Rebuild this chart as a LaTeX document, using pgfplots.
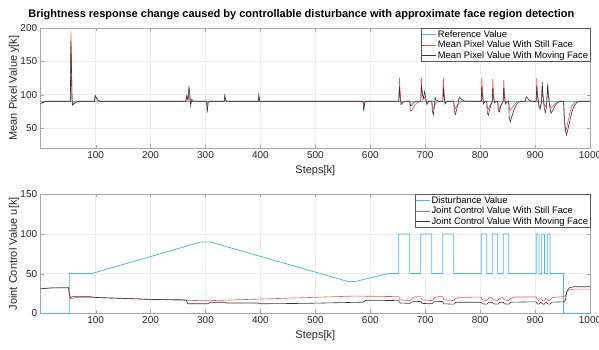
\documentclass[border=0pt]{standalone}
\usepackage{fontspec}
\setmainfont{Liberation Sans}
\usepackage{pgfplots}
\pgfplotsset{compat=1.18}
\definecolor{refblue}{RGB}{77,185,235}
\definecolor{stillred}{RGB}{255,80,80}
\definecolor{movgray}{RGB}{55,55,55}
\pgfplotsset{myaxis/.style={
  width=549.3pt, height=119.4pt, scale only axis,
  xmin=0, xmax=1000, xtick={100,200,...,1000},
  axis line style={draw=gray!70},
  grid=major, grid style={draw=gray!15, line width=0.4pt},
  tick align=inside, major tick length=3pt, tick style={draw=gray!70},
  ticklabel style={font=\fontsize{10}{12}\selectfont, text=black!85},
  /pgf/number format/assume math mode=true,
  /pgf/number format/1000 sep={},
  label style={font=\fontsize{11}{13}\selectfont, text=black!85},
  xlabel={Steps[k]},
  ylabel style={at={(axis description cs:-0.033,0.5)}, anchor=south},
  legend cell align=left,
  legend style={at={(1,1)}, anchor=north east, draw=gray!70!black, fill=white,
    font=\fontsize{9.4}{10.5}\selectfont, inner xsep=0.5pt, inner ysep=0.5pt,
    nodes={inner sep=1.2pt}},
}}
\begin{document}
\begin{tikzpicture}
\useasboundingbox (-40.7pt,-201.3pt) rectangle (558.3pt,147.7pt);
\begin{axis}[myaxis, at={(0pt,0pt)}, anchor=south west,
  legend image code/.code={\draw[#1] (0cm,0cm) -- (0.48cm,0cm);},
  ymin=20, ymax=200, ytick={50,100,150,200},
  ylabel={Mean Pixel Value y[k]},
  title={Brightness response change caused by controllable disturbance with approximate face region detection},
  title style={font=\bfseries\fontsize{11}{13}\selectfont, at={(axis description cs:0.5,1)}, anchor=south, yshift=-1pt, xshift=-14pt},
]
\addplot[refblue, line width=1pt] coordinates {(0,90)(1000,90)};
\addlegendentry{Reference Value}
\addplot[stillred, line width=0.6pt] coordinates {
(0,86)(3,87.5)(6,89)(10,90)(54,90)(55,196)(56,150)(57,92)(58,85)(60,87)(63,89)(68,90)
(98,90)(99,97)(101,95)(104,91)(108,90)
(264,90)(266,95)(268,92)(270,100)(272,88)(274,91)(277,90)
(302,90)(303,85)(305,90)
(334,90)(335,95)(337,90)
(396,90)(397,96)(399,90)
(587,90)(588,86)(590,90)
(652,90)(653,126)(654,110)(656,88)(659,89.5)(663,90)
(672,90)(673,75)(675,76)(678,80)(682,85)(686,88)(691,90)
(692,90)(693,126)(694,110)(696,92)(699,96)(702,88)(706,90)
(712,90)(713,82)(715,79)(717,84)(720,88)(725,90)
(732,90)(733,125)(734,110)(736,88)(740,90)
(752,90)(753,82)(755,79)(758,83)(762,87)(767,89.5)(772,90)
(802,90)(803,125)(804,110)(806,88)(810,90)
(812,90)(813,80)(815,78)(818,84)(821,88)(822,90)(823,124)(824,108)(826,88)(830,90)
(832,90)(833,80)(835,78)(838,84)(841,88)(842,90)(843,122)(844,106)(846,88)(850,90)
(852,90)(853,80)(855,77)(858,80)(862,85)(867,88.5)(872,90)
(902,90)(903,125)(904,108)(906,92)(907,85)(909,80)(911,87)(912,95)(913,110)(914,98)(916,88)(917,84)(919,82)(921,88)(922,100)(923,118)(924,104)(926,90)(927,86)(929,80)(932,82)(936,86)(941,89)(946,90)
(952,90)(953,60)(955,44)(957,48)(960,60)(964,75)(968,84)(973,89)(978,90)(1000,90)};
\addlegendentry{Mean Pixel Value With Still Face}
\addplot[movgray, line width=0.6pt] coordinates {
(0,87)(4,88)(8,89.5)(12,90)(54,90)(55,182)(56,140)(57,95)(58,84)(60,86)(64,88.5)(70,90)
(98,90)(99,99)(101,96)(104,92)(108,90)
(264,90)(266,99)(268,92)(270,113)(272,96)(273,83)(275,93)(277,90)(280,90)
(302,90)(303,73)(305,88)(307,90)
(334,90)(335,99)(337,92)(339,90)
(396,90)(397,100)(399,89)(402,90)
(587,90)(588,75)(590,88)(592,90)
(652,90)(653,112)(654,100)(656,85)(659,88)(663,90)
(672,90)(673,83)(675,84)(678,87)(683,90)
(692,90)(693,114)(695,100)(697,95)(699,105)(701,95)(703,85)(706,90)
(712,90)(713,75)(715,70)(717,85)(718,96)(720,92)(724,90)
(732,90)(733,112)(734,100)(736,86)(740,90)
(752,90)(753,75)(755,70)(758,80)(761,93)(762,96)(766,93)(770,91)(774,90)
(802,90)(803,112)(804,100)(806,86)(809,90)
(812,90)(813,72)(815,69)(818,80)(821,88)(822,90)(823,110)(824,98)(826,88)(829,90)
(832,90)(833,76)(835,74)(838,84)(841,89)(842,90)(843,110)(844,98)(846,86)(849,90)
(852,90)(853,65)(855,59)(858,68)(862,78)(866,85)(871,89)(876,90)
(882,90)(884,97)(886,95)(889,92)(893,90)
(902,90)(903,112)(904,100)(906,90)(907,82)(909,78)(911,84)(912,95)(913,119)(914,104)(916,86)(917,78)(919,73)(921,84)(922,100)(923,114)(924,100)(926,86)(927,80)(929,72)(932,76)(936,83)(941,88)(946,90)
(952,90)(953,70)(955,50)(957,39)(959,45)(963,60)(967,74)(971,83)(976,88)(982,90)(1000,90)};
\addlegendentry{Mean Pixel Value With Moving Face}
\end{axis}
\begin{axis}[myaxis, at={(0pt,-165.6pt)}, anchor=south west,
  legend image code/.code={\draw[#1] (0cm,0cm) -- (0.48cm,0cm);},
  height=119pt,
  ymin=0, ymax=150, ytick={0,50,100,150},
  ylabel={Joint Control Value u[k]},
]
\addplot[refblue, line width=0.8pt] coordinates {
(0,0)(52,0)(52,50)(92,50)(292,90)(308,90)(560,40)(572,40)(632,50)(652,50)(652,100)(672,100)(672,50)(692,50)(692,100)(712,100)(712,50)(732,50)(732,100)(752,100)(752,50)(802,50)(802,100)(812,100)(812,50)(822,50)(822,100)(832,100)(832,50)(842,50)(842,100)(852,100)(852,50)(902,50)(902,100)(907,100)(907,50)(912,50)(912,100)(917,100)(917,50)(922,50)(922,100)(927,100)(927,50)(952,50)(952,0)(1000,0)};
\addlegendentry{Disturbance Value}
\addplot[stillred, line width=0.6pt] coordinates {
(0,31)(20,32)(51,32.5)(52,25)(54,18)(58,19)(65,20)(100,20)(200,17.6)(300,15.8)(470,19.5)(570,21.7)(600,21.5)(652,21)(654,17)(672,16)(674,17)(678,20)(684,21)(692,21)(694,17)(712,16)(714,17)(718,20)(724,21)(732,21)(734,17)(752,16)(754,18)(760,20)(802,20.5)(804,17)(812,16)(814,18)(820,20)(822,19)(824,17)(832,16)(834,18)(840,20)(842,19)(844,17)(852,16)(856,19)(862,20.5)(902,20.5)(904,17)(907,16)(910,19)(912,18)(914,16)(917,16)(920,19)(922,18)(924,16)(927,16)(932,20)(952,21)(955,22)(958,27)(962,29.5)(970,30.5)(1000,30.5)};
\addlegendentry{Joint Control Value With Still Face}
\addplot[movgray, line width=0.6pt] coordinates {
(0,31)(20,32)(51,32)(52,25)(54,20)(58,21)(65,21)(90,21)(100,20)(200,17.5)(260,17)(265,16.5)(268,12)(305,12)(308,14)(335,14)(338,13)(395,13)(398,12)(480,12.5)(586,14)(592,16.5)(652,16)(654,13)(672,12.5)(676,14.5)(692,15)(694,12.5)(712,12)(716,14.5)(732,15)(734,12)(752,11.5)(756,14)(802,14)(804,12)(812,11.5)(816,14)(822,14)(824,12)(832,11.5)(836,14)(842,14)(844,12)(852,11.5)(856,14)(902,14.5)(904,12)(907,11.5)(910,14)(912,13)(914,11.5)(917,11.5)(920,14)(922,13)(924,11.5)(927,11.5)(931,14)(952,14.5)(955,16)(958,28)(962,32)(970,33.5)(1000,33.5)};
\addlegendentry{Joint Control Value With Moving Face}
\end{axis}
\end{tikzpicture}
\end{document}
